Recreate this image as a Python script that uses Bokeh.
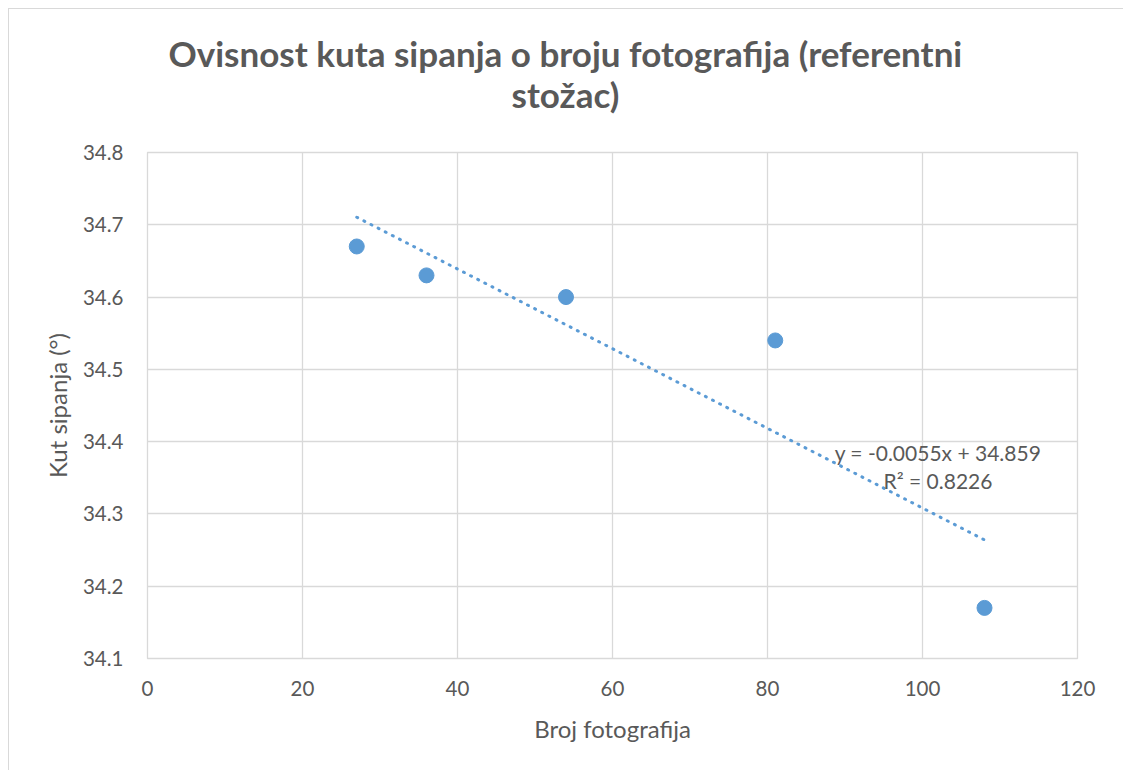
import numpy as np
from bokeh.plotting import figure
from bokeh.models import FixedTicker, Label, Title
from bokeh.embed import file_html
from bokeh.resources import INLINE

# Data
photos = [27, 36, 54, 81, 108]
angle = [34.67, 34.63, 34.60, 34.54, 34.17]
x_ticks = [0, 20, 40, 60, 80, 100, 120]
y_ticks = [34.1, 34.2, 34.3, 34.4, 34.5, 34.6, 34.7, 34.8]
title_lines = ["Ovisnost kuta sipanja o broju fotografija (referentni", "stožac)"]
x_label = "Broj fotografija"
y_label = "Kut sipanja (°)"

# linear trend fitted from the data
slope, intercept = np.polyfit(photos, angle, 1)
pred = slope * np.array(photos) + intercept
ss_res = np.sum((np.array(angle) - pred) ** 2)
ss_tot = np.sum((np.array(angle) - np.mean(angle)) ** 2)
r2 = 1 - ss_res / ss_tot
eq_text = f"y = {slope:.4f}x + {intercept:.3f}"
r2_text = f"R² = {r2:.4f}"
trend_x = [min(photos), max(photos)]
trend_y = [slope * v + intercept for v in trend_x]

FONT = "Lato"
GREY = "#595959"
BLUE = "#5b9bd5"
GRID = "#d9d9d9"

p = figure(width=1115, height=762, x_range=(0, 120), y_range=(34.1, 34.8),
           output_backend="svg", toolbar_location=None, title=None,
           min_border_left=138, min_border_right=47, min_border_top=143, min_border_bottom=113)
p.styles = {"margin-left": "8px", "margin-top": "8px",
            "border-left": "1px solid #d9d9d9", "border-top": "1px solid #d9d9d9"}

p.outline_line_color = GRID
p.outline_line_width = 1.3

for ax in (p.xaxis[0], p.yaxis[0]):
    ax.axis_line_color = None
    ax.major_tick_line_color = None
    ax.minor_tick_line_color = None
    ax.major_tick_out = 0
    ax.major_tick_in = 0
    ax.minor_tick_out = 0
    ax.minor_tick_in = 0
    ax.major_label_text_font = FONT
    ax.major_label_text_font_size = "20.5px"
    ax.major_label_text_color = GREY
    ax.axis_label_text_font = FONT
    ax.axis_label_text_font_size = "24px"
    ax.axis_label_text_font_style = "normal"
    ax.axis_label_text_color = GREY

p.xaxis.ticker = FixedTicker(ticks=x_ticks)
p.yaxis.ticker = FixedTicker(ticks=y_ticks)
p.xaxis.axis_label = x_label
p.yaxis.axis_label = y_label
p.xaxis.major_label_standoff = 22
p.yaxis.major_label_standoff = 24
p.xaxis.axis_label_standoff = 15
p.yaxis.axis_label_standoff = 8

p.xgrid.ticker = FixedTicker(ticks=x_ticks)
p.ygrid.ticker = FixedTicker(ticks=y_ticks)
p.xgrid.grid_line_color = GRID
p.ygrid.grid_line_color = GRID
p.xgrid.grid_line_width = 1.3
p.ygrid.grid_line_width = 1.3

p.line(trend_x, trend_y, line_color=BLUE, line_width=3, line_dash="1 7", line_cap="round")
p.scatter(photos, angle, size=15, color=BLUE, line_color=BLUE)

# title: two lines, each centred over the whole chart (offset from frame left)
title_offsets = [21, 364]
title_standoffs = [-81, 75]
for txt, off, so in reversed(list(zip(title_lines, title_offsets, title_standoffs))):
    p.add_layout(Title(text=txt, align="left", offset=off, standoff=so,
                       text_font=FONT, text_font_size="35px", text_font_style="bold",
                       text_color=GREY), "above")

# trendline equation
for txt, yy in zip([eq_text, r2_text], [34.385, 34.3462]):
    p.add_layout(Label(x=102.0, y=yy, text=txt, text_align="center", text_baseline="alphabetic",
                       text_font=FONT, text_font_size="21px", text_color=GREY))

open("out.html", "w").write(file_html(p, INLINE))
